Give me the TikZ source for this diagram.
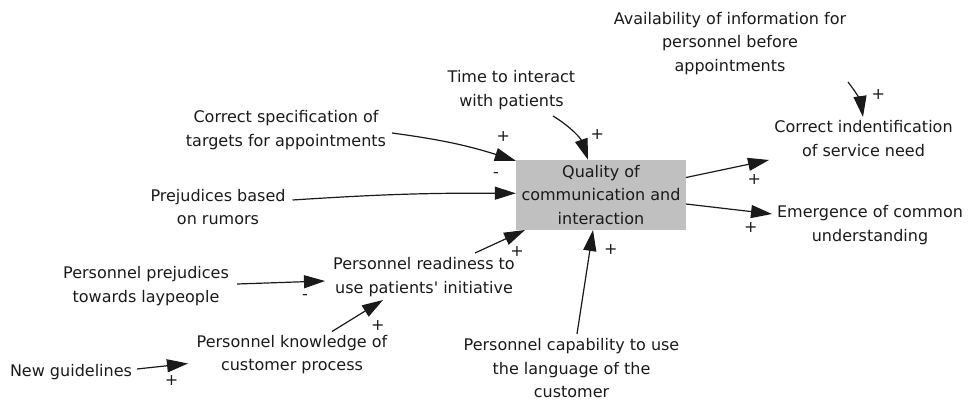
\documentclass[tikz,border=0pt]{standalone}
\usepackage{fontspec}
\setmainfont{DejaVu Sans}
\usetikzlibrary{arrows.meta,calc}
\definecolor{qgray}{RGB}{192,192,192}
\definecolor{ink}{RGB}{26,26,26}
\begin{document}
\begin{tikzpicture}[x=1pt,y=-1pt,
  every node/.style={font=\fontsize{16}{23.5}\selectfont, text=ink},
  var/.style={align=center, inner sep=0pt},
  sign/.style={inner sep=0pt},
  link/.style={-{Triangle[length=21pt,width=13pt]}, line width=1.2pt, ink}]
\useasboundingbox (0,0) rectangle (969,402);

% central variable
\node[fill=qgray, minimum width=170pt, minimum height=70pt, align=center, inner sep=0pt] (q) at (601,195)
  {Quality of\\communication and\\interaction};

% surrounding variables
\node[var] (av) at (730,43.5) {Availability of information for\\personnel before\\appointments};
\node[var] (ci) at (863.5,138.5) {Correct indentification\\of service need};
\node[var] (em) at (870,225) {Emergence of common\\understanding};
\node[var] (tm) at (511.5,90) {Time to interact\\with patients};
\node[var] (cs) at (286,130) {Correct specification of\\targets for appointments};
\node[var] (pb) at (218,207) {Prejudices based\\on rumors};
\node[var] (pr) at (424,277) {Personnel readiness to\\use patients\textquotesingle{} initiative};
\node[var] (pl) at (146,286) {Personnel prejudices\\towards laypeople};
\node[var] (pk) at (292,354.5) {Personnel knowledge of\\customer process};
\node[var] (ng) at (71,371.7) {New guidelines};
\node[var] (pc) at (571.5,368.5) {Personnel capability to use\\the language of the\\customer};

% causal links
\draw[link] ($(cs)+(106,3)$) to[bend left=5] ($(q.north west)+(0,1)$);
\draw[link] ($(pb)+(74.5,-7)$) to[bend left=2] ($(q.west)+(0,-1.7)$);
\draw[link] ($(tm)+(41.5,26)$) to[bend left=20] ($(q.north)+(-13,0)$);
\draw[link] ($(pr)+(51,-24)$) -- ($(q)+(-76,35)$);
\draw[link] ($(pc)+(5.5,-34.5)$) -- ($(q)+(-8,35)$);
\draw[link] ($(q)+(85,-17.5)$) -- ($(ci)+(-94.5,21.5)$);
\draw[link] ($(q)+(85,9)$) -- ($(em)+(-98,-11)$);
\draw[link] ($(av)+(118,38.5)$) to[bend left=15] ($(ci)+(-0.5,-21.5)$);
\draw[link] ($(pl)+(91,-2)$) -- ($(pr)+(-99,4)$);
\draw[link] ($(pk)+(40,-23)$) -- ($(pr)+(-41,23)$);
\draw[link] ($(ng)+(66,-2.7)$) -- ($(pk)+(-104,9)$);

% polarities
\node[sign] (s1) at (503.3,136) {+};
\node[sign] (s2) at (496,175) {-};
\node[sign] (s3) at (597.3,134) {+};
\node[sign] (s4) at (517,251) {+};
\node[sign] (s5) at (610.7,249) {+};
\node[sign] (s6) at (754.3,179.3) {+};
\node[sign] (s7) at (750.7,227.3) {+};
\node[sign] (s8) at (878.3,94.5) {+};
\node[sign] (s9) at (305,296.7) {-};
\node[sign] (s10) at (377.7,325) {+};
\node[sign] (s11) at (171.7,380.7) {+};
\end{tikzpicture}
\end{document}
